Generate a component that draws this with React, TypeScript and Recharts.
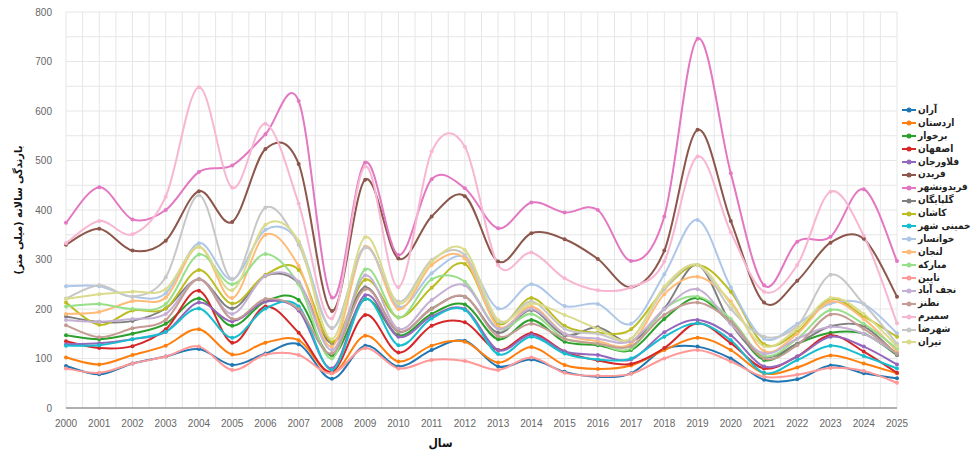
import { LineChart, Line, XAxis, YAxis, CartesianGrid } from 'recharts'

const years = [2000, 2001, 2002, 2003, 2004, 2005, 2006, 2007, 2008, 2009, 2010, 2011, 2012, 2013, 2014, 2015, 2016, 2017, 2018, 2019, 2020, 2021, 2022, 2023, 2024, 2025]
const yTicks = [0, 100, 200, 300, 400, 500, 600, 700, 800]

const aran = [85, 68, 90, 104, 119, 87, 110, 129, 59, 126, 84, 117, 136, 84, 98, 73, 63, 70, 119, 124, 100, 57, 58, 86, 70, 60]
const ardestan = [102, 88, 107, 126, 159, 108, 132, 137, 70, 146, 94, 126, 134, 92, 123, 87, 79, 86, 117, 142, 117, 70, 82, 106, 90, 70]
const borkhar = [147, 139, 150, 170, 221, 166, 215, 218, 106, 220, 147, 190, 209, 139, 178, 134, 127, 117, 180, 222, 171, 97, 130, 152, 150, 107]
const isfahan = [135, 121, 125, 159, 237, 132, 205, 152, 73, 188, 112, 166, 173, 117, 151, 114, 96, 89, 121, 171, 131, 80, 104, 147, 114, 71]
const falavarjan = [129, 131, 139, 154, 213, 175, 215, 197, 80, 228, 144, 185, 200, 117, 148, 114, 107, 98, 153, 178, 147, 84, 104, 144, 124, 88]
const fereydan = [330, 362, 318, 338, 438, 376, 523, 493, 196, 461, 302, 387, 428, 296, 353, 341, 301, 244, 318, 562, 378, 213, 257, 334, 342, 225]
const fereydunshahr = [374, 446, 381, 400, 477, 490, 553, 620, 223, 496, 309, 462, 444, 363, 415, 395, 400, 297, 387, 746, 474, 248, 336, 346, 442, 297]
const golpayegan = [185, 174, 176, 201, 260, 201, 267, 252, 131, 244, 154, 201, 225, 152, 198, 147, 163, 134, 201, 289, 171, 104, 130, 165, 165, 107]
const kashan = [213, 168, 197, 201, 279, 211, 269, 279, 134, 259, 183, 243, 291, 170, 222, 166, 152, 159, 240, 289, 235, 129, 154, 220, 185, 144]
const khomeinishahr = [126, 127, 139, 154, 201, 142, 201, 205, 77, 220, 127, 181, 198, 109, 144, 110, 98, 100, 144, 171, 137, 71, 97, 126, 105, 80]
const khansar = [246, 246, 225, 232, 333, 260, 360, 336, 161, 326, 205, 272, 304, 201, 250, 206, 210, 170, 270, 380, 244, 140, 170, 211, 210, 151]
const lenjan = [190, 194, 216, 223, 326, 222, 350, 287, 124, 326, 200, 289, 302, 165, 205, 150, 135, 130, 230, 265, 215, 115, 150, 215, 180, 115]
const mobarakeh = [205, 210, 200, 210, 310, 250, 311, 250, 100, 280, 183, 260, 255, 160, 190, 140, 130, 120, 200, 225, 180, 105, 140, 198, 170, 120]
const nain = [80, 71, 90, 104, 124, 77, 108, 107, 70, 121, 80, 97, 95, 77, 102, 71, 65, 69, 100, 117, 94, 63, 67, 81, 75, 51]
const najafabad = [178, 174, 180, 190, 260, 190, 267, 255, 117, 268, 160, 218, 248, 160, 200, 150, 140, 135, 200, 240, 170, 110, 140, 164, 150, 110]
const natanz = [167, 143, 161, 178, 260, 180, 220, 200, 110, 240, 155, 200, 225, 145, 170, 140, 130, 125, 188, 213, 175, 100, 127, 189, 160, 110]
const semirom = [333, 378, 351, 427, 648, 445, 574, 413, 181, 488, 244, 518, 528, 289, 314, 262, 238, 244, 296, 508, 355, 235, 289, 437, 348, 171]
const shahreza = [221, 248, 225, 264, 430, 260, 405, 330, 161, 324, 215, 299, 309, 175, 215, 160, 150, 140, 240, 289, 200, 144, 166, 269, 210, 130]
const tiran = [220, 230, 235, 240, 326, 238, 370, 337, 139, 345, 211, 296, 319, 178, 211, 188, 160, 140, 245, 289, 210, 125, 160, 222, 190, 125]

const series = [
  { key: 'aran', name: 'آران', color: '#1f77b4', values: aran },
  { key: 'ardestan', name: 'اردستان', color: '#ff7f0e', values: ardestan },
  { key: 'borkhar', name: 'برخوار', color: '#2ca02c', values: borkhar },
  { key: 'isfahan', name: 'اصفهان', color: '#d62728', values: isfahan },
  { key: 'falavarjan', name: 'فلاورجان', color: '#9467bd', values: falavarjan },
  { key: 'fereydan', name: 'فریدن', color: '#8c564b', values: fereydan },
  { key: 'fereydunshahr', name: 'فریدونشهر', color: '#e377c2', values: fereydunshahr },
  { key: 'golpayegan', name: 'گلپایگان', color: '#7f7f7f', values: golpayegan },
  { key: 'kashan', name: 'کاشان', color: '#bcbd22', values: kashan },
  { key: 'khomeinishahr', name: 'خمینی شهر', color: '#17becf', values: khomeinishahr },
  { key: 'khansar', name: 'خوانسار', color: '#aec7e8', values: khansar },
  { key: 'lenjan', name: 'لنجان', color: '#ffbb78', values: lenjan },
  { key: 'mobarakeh', name: 'مبارکه', color: '#98df8a', values: mobarakeh },
  { key: 'nain', name: 'نایین', color: '#ff9896', values: nain },
  { key: 'najafabad', name: 'نجف آباد', color: '#c5b0d5', values: najafabad },
  { key: 'natanz', name: 'نطنز', color: '#c49c94', values: natanz },
  { key: 'semirom', name: 'سمیرم', color: '#f7b6d2', values: semirom },
  { key: 'shahreza', name: 'شهرضا', color: '#c7c7c7', values: shahreza },
  { key: 'tiran', name: 'تیران', color: '#dbdb8d', values: tiran },
]

const data = years.map((year, i) => {
  const row: any = { year }
  series.forEach(s => { row[s.key] = s.values[i] })
  return row
})

// catmull-rom style smoothing, passes through every point
const smooth = (context: any) => {
  let pts: number[][] = []
  return {
    areaStart() {},
    areaEnd() {},
    lineStart() { pts = [] },
    point(x: number, y: number) { pts.push([+x, +y]) },
    lineEnd() {
      if (!pts.length) return
      context.moveTo(pts[0][0], pts[0][1])
      for (let i = 0; i < pts.length - 1; i++) {
        const p0 = pts[i - 1] || pts[i]
        const p1 = pts[i]
        const p2 = pts[i + 1]
        const p3 = pts[i + 2] || p2
        context.bezierCurveTo(
          p1[0] + (p2[0] - p0[0]) / 6, p1[1] + (p2[1] - p0[1]) / 6,
          p2[0] - (p3[0] - p1[0]) / 6, p2[1] - (p3[1] - p1[1]) / 6,
          p2[0], p2[1]
        )
      }
    },
  }
}

const tickStyle = { fill: '#666', fontSize: 10, fontFamily: 'Liberation Sans, Arial, sans-serif' }
const faFont = 'DejaVu Sans Condensed, DejaVu Sans, sans-serif'

export default function App() {
  return (
    <div style={{ position: 'absolute', left: 0, top: 0, width: 971, height: 450, overflow: 'hidden', background: '#fff' }}>
      <LineChart width={971} height={450} data={data} margin={{ top: 12, right: 74, bottom: 0, left: 0 }}>
        <CartesianGrid
          stroke="#e6e6e6"
          verticalCoordinatesGenerator={({ offset }: any) => Array.from({ length: 51 }, (_, i) => offset.left + (i * offset.width) / 50)}
          horizontalCoordinatesGenerator={({ offset }: any) => Array.from({ length: 17 }, (_, i) => offset.top + (i * offset.height) / 16)}
        />
        <XAxis
          dataKey="year"
          type="number"
          domain={[2000, 2025]}
          ticks={years}
          interval={0}
          height={42}
          tick={tickStyle}
          tickLine={false}
          tickMargin={6}
          axisLine={{ stroke: '#999', strokeWidth: 1.5 }}
          label={{ value: 'سال', position: 'insideBottom', offset: 3, dx: -41, style: { fill: '#111', fontSize: 12, fontWeight: 'bold', fontFamily: faFont } }}
        />
        <YAxis
          domain={[0, 800]}
          ticks={yTicks}
          width={66}
          tick={tickStyle}
          tickLine={false}
          axisLine={false}
          tickMargin={8}
          label={{ value: 'بارندگی سالانه (میلی متر)', angle: -90, position: 'insideLeft', offset: 18, style: { textAnchor: 'middle', fill: '#111', fontSize: 11, fontWeight: 'bold', fontFamily: faFont } }}
        />
        {series.map(s => (
          <Line
            key={s.key}
            dataKey={s.key}
            name={s.name}
            type={smooth as any}
            stroke={s.color}
            strokeWidth={2}
            dot={{ r: 2, fill: s.color, stroke: s.color, strokeWidth: 0 }}
            activeDot={false}
            isAnimationActive={false}
          />
        ))}
      </LineChart>
      <div style={{ position: 'absolute', left: 902, top: 104, fontSize: 10, lineHeight: '12.9px', color: '#222', fontFamily: faFont, fontWeight: 'bold' }}>
        {series.map(s => (
          <div key={s.key} style={{ display: 'flex', alignItems: 'center', whiteSpace: 'nowrap', height: 12.9 }}>
            <svg width={14} height={8} style={{ marginRight: 2, flexShrink: 0 }}>
              <line x1={0} y1={4} x2={14} y2={4} stroke={s.color} strokeWidth={2} />
              <circle cx={7} cy={4} r={2.5} fill={s.color} />
            </svg>
            <span>{s.name}</span>
          </div>
        ))}
      </div>
    </div>
  )
}
